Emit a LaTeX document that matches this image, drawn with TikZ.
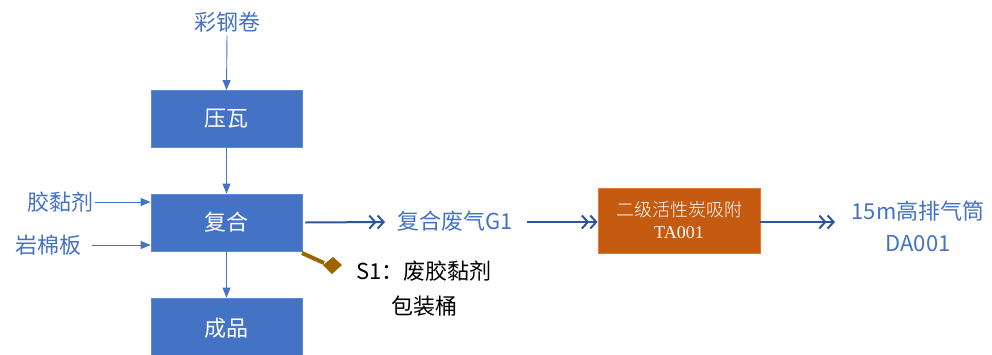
\documentclass[tikz,border=0pt]{standalone}
\usepackage{fontspec}
\setmainfont{Noto Sans CJK SC}
\newfontfamily\serifcjk{Noto Sans CJK SC Light}
\newfontfamily\latinserif{Liberation Serif}
\usetikzlibrary{arrows.meta}
\definecolor{boxblue}{HTML}{4472C4}
\definecolor{boxborder}{HTML}{5B8BD8}
\definecolor{txtblue}{HTML}{4472C4}
\definecolor{darkblue}{HTML}{2F5597}
\definecolor{orangebox}{HTML}{C55A11}
\definecolor{orangeborder}{HTML}{E07A3A}
\definecolor{brownline}{HTML}{9C6500}
\tikzset{
  procbox/.style={draw=boxborder, line width=0.8pt, fill=boxblue, text=white, minimum width=151pt, minimum height=57pt, inner sep=0pt, font=\fontsize{22}{26}\selectfont},
  lbl/.style={text=txtblue, font=\fontsize{22}{26}\selectfont, inner sep=1pt},
  thinarrow/.style={draw=boxblue, line width=0.9pt, -{Triangle[length=10pt,width=8pt]}},
  dblarrow/.style={draw=darkblue, line width=2pt, -{Straight Barb[length=6pt,width=13pt]Straight Barb[length=6pt,width=13pt]}},
}
\begin{document}
\begin{tikzpicture}[x=1pt,y=-1pt]
\useasboundingbox (0,0) rectangle (992,354);
\node[lbl] (cgj) at (227,22) {彩钢卷};
\node[procbox] (yw) at (226.5,119) {压瓦};
\node[procbox] (fh) at (226.5,222.5) {复合};
\node[procbox, minimum height=60pt] (cp) at (226.5,328) {成品};
\node[lbl, anchor=east] (jnj) at (95,202) {胶黏剂};
\node[lbl, anchor=east] (ymb) at (83,245) {岩棉板};
\node[lbl] (g1) at (455,221) {复合废气G1};
\node[draw=orangeborder, line width=0.8pt, fill=orangebox, text=white, minimum width=162pt, minimum height=65pt, align=center, inner sep=0pt, font=\fontsize{18}{22}\selectfont] (ta) at (679,220.5) {{\serifcjk 二级活性炭吸附}\\{\latinserif TA001}};
\node[lbl, align=center, font=\fontsize{22}{32}\selectfont] (da) at (918,226) {15m高排气筒\\DA001};
\node[align=center, font=\fontsize{22}{35}\selectfont, anchor=north] (s1) at (424,257) {S1：废胶黏剂\\包装桶};
\coordinate (bend) at (324,263);
\coordinate (ymbstart) at (92,245);
\draw[thinarrow] (cgj.south) ++(0,2) -- (yw.north);
\draw[thinarrow] (yw.south) -- (fh.north);
\draw[thinarrow] (fh.south) -- (cp.north);
\draw[thinarrow] (jnj.east) -- (jnj.east -| fh.west);
\draw[thinarrow] (ymbstart) -- (ymbstart -| fh.west);
\draw[dblarrow] (fh.east) ++(3,0) -- (385,222);
\draw[dblarrow] (527,222) -- (ta.west |- 0,222);
\draw[dblarrow] (ta.east |- 0,222) -- (835,222);
\draw[brownline, line width=4pt] (302,253) -- (bend);
\fill[brownline] (323,265) -- (333,257) -- (342,265) -- (332,274) -- cycle;
\end{tikzpicture}
\end{document}
